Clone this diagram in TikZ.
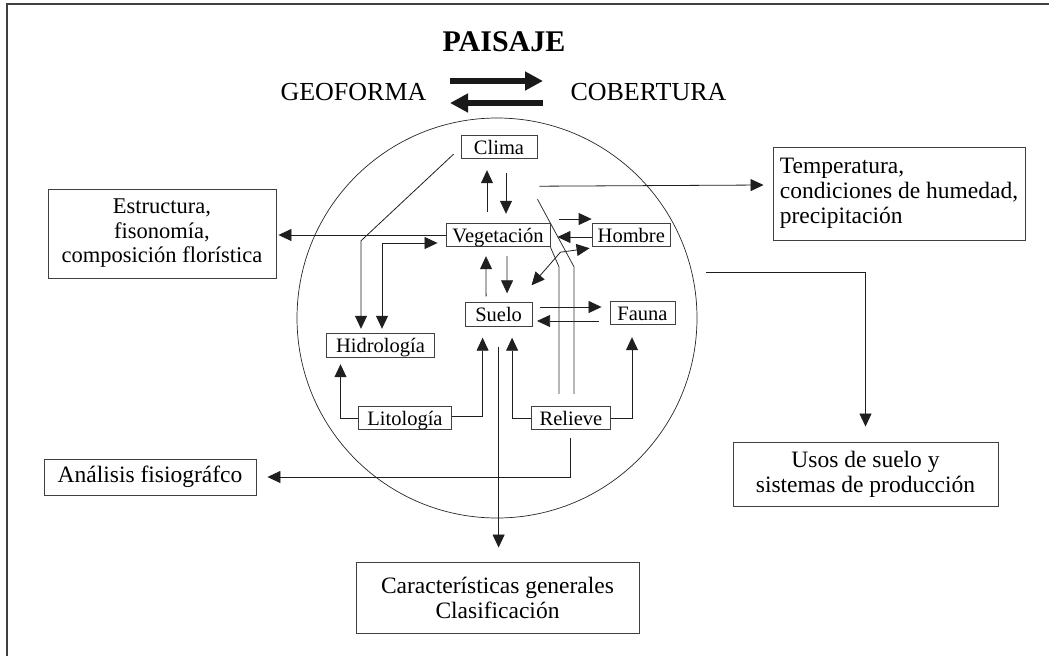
\documentclass[tikz,border=0pt]{standalone}
\usepackage{fontspec}
\setmainfont{Liberation Serif}
\usetikzlibrary{arrows.meta,calc}
\begin{document}
\begin{tikzpicture}[x=1pt,y=-1pt,
  ibox/.style={draw=black!75,line width=0.9pt,inner xsep=0pt,inner ysep=1pt,
    minimum height=23.5pt,text height=17.5pt,text depth=3.5pt,
    font=\fontsize{20.5}{22}\selectfont},
  obox/.style={draw=black!75,line width=0.9pt,inner sep=0pt,align=center,
    font=\fontsize{23.5}{25}\selectfont},
  arr/.style={draw=black!88,line width=0.8pt,-{Triangle[length=13pt,width=12pt]}},
  darr/.style={draw=black!88,line width=0.8pt,{Triangle[length=13pt,width=12pt]}-{Triangle[length=13pt,width=12pt]}},
  ln/.style={draw=black!80,line width=0.8pt},
  big/.style={draw=black!90,line width=5.5pt,-{Triangle[length=18pt,width=18pt]}}]
\useasboundingbox (0,0) rectangle (1049,656);
% frame
\draw[black!75,line width=1.5pt] (7,656) -- (7,4) -- (1049,4);
% circle
\node[draw=black!85,line width=0.7pt,circle,minimum size=400pt,inner sep=0pt] (circ) at (497,318) {};
% title
\node[anchor=base,font=\fontsize{30}{32}\selectfont\bfseries] (paisaje) at (504,51) {PAISAJE};
\node[anchor=base east,font=\fontsize{26}{28}\selectfont] (geo) at (430,100) {GEOFORMA};
\node[anchor=base west,font=\fontsize{26}{28}\selectfont] (cob) at (567,100) {COBERTURA};
\draw[big] ($(geo.base east)+(20,-19)$) -- ($(cob.base west)+(-24,-19)$);
\draw[big] ($(cob.base west)+(-24,3)$) -- ($(geo.base east)+(20,3)$);
% inner boxes
\node[ibox,minimum width=76pt] (clima) at (499,147) {Clima};
\node[ibox,minimum width=104pt] (veg) at (498,235) {Vegetación};
\node[ibox,minimum width=78.5pt] (hombre) at (631.3,235) {Hombre};
\node[ibox,minimum width=67pt] (suelo) at (498.6,314.5) {Suelo};
\node[ibox,minimum width=65pt] (fauna) at (642.5,313) {Fauna};
\node[ibox,minimum width=107.5pt] (hidro) at (380.5,345.5) {Hidrología};
\node[ibox,minimum width=93.5pt] (lito) at (405,418) {Litología};
\node[ibox,minimum width=78.3pt] (relieve) at (571,418) {Relieve};
% outer boxes
\node[obox,align=left,minimum width=252pt,minimum height=93pt] (temp) at (899,193.5)
  {Temperatura,\\condiciones de humedad,\\precipitación};
\node[obox,minimum width=228pt,minimum height=89pt,font=\fontsize{22.5}{24.5}\selectfont] (estr) at (162,233.5)
  {Estructura,\\fisonomía,\\composición florística};
\node[obox,minimum width=212pt,minimum height=36pt] (anal) at (150,477) {Análisis fisiográfco};
\node[obox,minimum width=265pt,minimum height=64pt] (usos) at (865.5,474)
  {Usos de suelo y\\sistemas de producción};
\node[obox,minimum width=283pt,minimum height=71pt] (car) at (497.5,597.5)
  {Características generales\\Clasificación};
% connectors
\draw[arr] ($(veg.north)+(-11,-11)$) -- ($(clima.south)+(-12,11)$);
\draw[arr] ($(clima.south)+(7,14)$) -- ($(veg.north)+(8,-9)$);
\draw[arr] ($(clima.south east)+(2,27)$) -- ($(temp.west)+(-9,-8.5)$);
\draw[arr] ($(clima.south west)+(-7,-5)$) -- ($(hidro.north)+(-19.5,-92.5)$) -- ($(hidro.north)+(-19.5,-4.5)$);
\draw[darr] ($(hidro.north)+(1.5,-4.5)$) |- ($(veg.west)+(-8,8)$);
\draw[arr,shorten >=2pt] (veg.west) -- (veg.west -| estr.east);
\draw[arr] ($(veg.east)+(9,-16)$) -- ($(hombre.west)+(0,-16)$);
\draw[arr] ($(hombre.west)+(0,2)$) -- ($(veg.east)+(7,2)$);
\draw[darr] ($(hombre.south west)+(-2,1)$) -- ($(veg.south east)+(10,5)$) -- ($(suelo.north east)+(-1,-17)$);
\draw[arr] ($(suelo.north)+(-12.5,-6)$) -- ($(veg.south)+(-12,9)$);
\draw[arr] ($(veg.south)+(9,9)$) -- ($(suelo.north)+(8.5,-9)$);
\draw[arr] ($(suelo.east)+(7,-7.5)$) -- ($(fauna.west)+(-8,-6)$);
\draw[arr] ($(fauna.west)+(-11,8)$) -- ($(suelo.east)+(4.5,6.5)$);
\draw[arr] (lito.west) -| ($(hidro.south)+(-40,6.5)$);
\draw[arr] ($(lito.east)+(0,-2)$) -| ($(suelo.south)+(-16,11)$);
\draw[arr] (relieve.west) -| ($(suelo.south)+(13.5,11)$);
\draw[arr] (relieve.east) -| ($(fauna.south)+(-10.5,12)$);
\draw[ln] ($(relieve.north)+(-12,-12)$) -- ($(relieve.north)+(-12,-139)$) -- (veg.south east);
\draw[ln] ($(relieve.north)+(3,-12)$) -- ($(relieve.north)+(3,-139)$) -- ($(clima.south east)+(0,40)$);
\draw[arr] ($(relieve.south)+(-0.5,8)$) |- ($(anal.east)+(11,0)$);
\draw[arr] ($(suelo.south)+(0,20)$) -- ($(suelo.south |- car.north)+(0,-14)$);
\coordinate (ustart) at (706,272);
\draw[arr,shorten >=15pt] (ustart) -| (usos.north);
\end{tikzpicture}
\end{document}
